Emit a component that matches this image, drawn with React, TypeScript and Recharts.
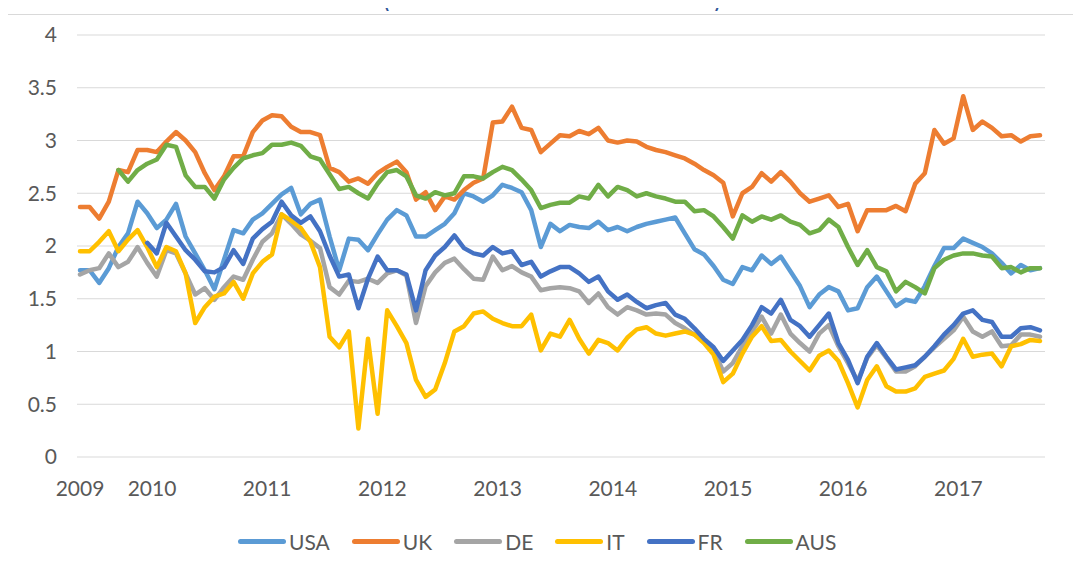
import React from 'react';
import { LineChart, Line, XAxis, YAxis, CartesianGrid, Legend } from 'recharts';

// Monthly observations, May 2009 .. Sep 2017 (101 months)
const START_YEAR = 2009;
const START_MONTH = 5;
const monthLabels: string[] = Array.from({ length: 101 }, (_, i) => {
  const m = START_MONTH - 1 + i;
  return `${START_YEAR + Math.floor(m / 12)}-${String((m % 12) + 1).padStart(2, '0')}`;
});

const yearTickPositions = [0, 7.5, 19.5, 31.5, 43.5, 55.5, 67.5, 79.5, 91.5];
const yearTickLabels = ['2009', '2010', '2011', '2012', '2013', '2014', '2015', '2016', '2017'];
const yTicks = [0, 0.5, 1, 1.5, 2, 2.5, 3, 3.5, 4];

const seriesNames = ['USA', 'UK', 'DE', 'IT', 'FR', 'AUS'];
const seriesColors = ['#5B9BD5', '#ED7D31', '#A5A5A5', '#FFC000', '#4472C4', '#70AD47'];

const usa = [
  1.77, 1.77, 1.65, 1.79, 1.99, 2.12, 2.42, 2.31, 2.17, 2.25,
  2.40, 2.09, 1.93, 1.77, 1.59, 1.87, 2.15, 2.12, 2.25, 2.31,
  2.40, 2.49, 2.55, 2.30, 2.40, 2.44, 2.09, 1.77, 2.07, 2.06,
  1.96, 2.11, 2.25, 2.34, 2.29, 2.09, 2.09, 2.15, 2.21, 2.31,
  2.50, 2.47, 2.42, 2.48, 2.58, 2.55, 2.51, 2.34, 1.99, 2.21,
  2.14, 2.20, 2.18, 2.17, 2.23, 2.15, 2.18, 2.14, 2.18, 2.21,
  2.23, 2.25, 2.27, 2.12, 1.97, 1.92, 1.81, 1.68, 1.64, 1.80,
  1.77, 1.91, 1.83, 1.90, 1.76, 1.62, 1.42, 1.54, 1.61, 1.57,
  1.39, 1.41, 1.61, 1.71, 1.57, 1.43, 1.49, 1.47, 1.62, 1.81,
  1.98, 1.98, 2.07, 2.03, 1.99, 1.93, 1.84, 1.74, 1.82, 1.77, 1.79,
];

const uk = [
  2.37, 2.37, 2.26, 2.42, 2.72, 2.70, 2.91, 2.91, 2.89, 2.99,
  3.08, 3.00, 2.89, 2.69, 2.53, 2.66, 2.85, 2.85, 3.08, 3.19,
  3.24, 3.23, 3.13, 3.08, 3.08, 3.05, 2.74, 2.70, 2.61, 2.64,
  2.59, 2.69, 2.75, 2.80, 2.70, 2.44, 2.51, 2.34, 2.47, 2.44,
  2.53, 2.60, 2.64, 3.17, 3.18, 3.32, 3.12, 3.10, 2.89, 2.97,
  3.05, 3.04, 3.09, 3.06, 3.12, 3.00, 2.98, 3.00, 2.99, 2.94,
  2.91, 2.89, 2.86, 2.83, 2.78, 2.72, 2.67, 2.60, 2.28, 2.50,
  2.56, 2.69, 2.61, 2.70, 2.61, 2.50, 2.42, 2.45, 2.48, 2.37,
  2.40, 2.14, 2.34, 2.34, 2.34, 2.38, 2.33, 2.59, 2.69, 3.10,
  2.97, 3.02, 3.42, 3.10, 3.18, 3.12, 3.04, 3.05, 2.99, 3.04, 3.05,
];

const de = [
  1.73, 1.77, 1.79, 1.93, 1.80, 1.85, 1.99, 1.84, 1.71, 1.96,
  1.93, 1.74, 1.54, 1.60, 1.49, 1.61, 1.71, 1.68, 1.87, 2.04,
  2.12, 2.30, 2.21, 2.11, 2.05, 1.98, 1.61, 1.54, 1.67, 1.66,
  1.69, 1.65, 1.74, 1.77, 1.72, 1.27, 1.62, 1.75, 1.84, 1.88,
  1.78, 1.69, 1.68, 1.90, 1.77, 1.81, 1.75, 1.71, 1.58, 1.60,
  1.61, 1.60, 1.57, 1.46, 1.55, 1.42, 1.35, 1.42, 1.39, 1.35,
  1.36, 1.35, 1.27, 1.22, 1.16, 1.10, 1.02, 0.81, 0.89, 1.05,
  1.19, 1.33, 1.17, 1.35, 1.17, 1.08, 1.00, 1.17, 1.25, 1.05,
  0.89, 0.72, 0.94, 1.06, 0.94, 0.81, 0.81, 0.86, 0.95, 1.04,
  1.12, 1.20, 1.33, 1.19, 1.14, 1.19, 1.05, 1.06, 1.16, 1.16, 1.14,
];

const it = [
  1.95, 1.95, 2.04, 2.14, 1.95, 2.06, 2.15, 1.99, 1.80, 1.99,
  1.95, 1.74, 1.27, 1.42, 1.52, 1.55, 1.66, 1.50, 1.74, 1.85,
  1.92, 2.30, 2.24, 2.17, 2.04, 1.80, 1.14, 1.04, 1.19, 0.27,
  1.12, 0.41, 1.39, 1.24, 1.08, 0.73, 0.57, 0.64, 0.89, 1.19,
  1.24, 1.36, 1.38, 1.31, 1.27, 1.24, 1.24, 1.35, 1.01, 1.17,
  1.14, 1.30, 1.12, 0.98, 1.11, 1.08, 1.01, 1.13, 1.21, 1.23,
  1.17, 1.15, 1.17, 1.19, 1.16, 1.08, 0.97, 0.71, 0.79, 0.98,
  1.14, 1.24, 1.10, 1.11, 1.00, 0.91, 0.82, 0.96, 1.01, 0.91,
  0.70, 0.47, 0.73, 0.86, 0.67, 0.62, 0.62, 0.65, 0.76, 0.79,
  0.82, 0.93, 1.12, 0.95, 0.97, 0.98, 0.86, 1.05, 1.07, 1.11, 1.10,
];

const fr = [
  null, null, null, null, null, null, null, 2.03, 1.93, 2.22,
  2.09, 1.96, 1.87, 1.76, 1.75, 1.80, 1.96, 1.83, 2.07, 2.16,
  2.23, 2.42, 2.29, 2.22, 2.28, 2.14, 1.91, 1.71, 1.73, 1.41,
  1.69, 1.90, 1.77, 1.77, 1.73, 1.39, 1.77, 1.91, 1.99, 2.10,
  1.98, 1.93, 1.91, 1.99, 1.93, 1.95, 1.82, 1.85, 1.71, 1.76,
  1.80, 1.80, 1.74, 1.66, 1.71, 1.57, 1.49, 1.54, 1.47, 1.41,
  1.44, 1.46, 1.35, 1.31, 1.22, 1.12, 1.04, 0.91, 1.01, 1.11,
  1.25, 1.42, 1.36, 1.49, 1.30, 1.24, 1.14, 1.25, 1.36, 1.08,
  0.92, 0.70, 0.95, 1.08, 0.95, 0.83, 0.85, 0.87, 0.95, 1.05,
  1.16, 1.25, 1.36, 1.39, 1.30, 1.28, 1.14, 1.14, 1.22, 1.23, 1.20,
];

const aus = [
  null, null, null, null, 2.72, 2.61, 2.72, 2.78, 2.82, 2.96,
  2.94, 2.67, 2.56, 2.56, 2.45, 2.63, 2.74, 2.83, 2.86, 2.88,
  2.96, 2.96, 2.98, 2.95, 2.85, 2.82, 2.68, 2.54, 2.56, 2.50,
  2.45, 2.59, 2.70, 2.72, 2.66, 2.48, 2.45, 2.51, 2.48, 2.50,
  2.66, 2.66, 2.64, 2.70, 2.75, 2.72, 2.63, 2.53, 2.36, 2.39,
  2.41, 2.41, 2.47, 2.45, 2.58, 2.47, 2.56, 2.53, 2.47, 2.50,
  2.47, 2.45, 2.42, 2.42, 2.33, 2.34, 2.28, 2.18, 2.07, 2.29,
  2.23, 2.28, 2.25, 2.29, 2.23, 2.20, 2.12, 2.15, 2.25, 2.18,
  1.99, 1.82, 1.96, 1.80, 1.76, 1.57, 1.66, 1.61, 1.55, 1.79,
  1.87, 1.91, 1.93, 1.93, 1.91, 1.90, 1.79, 1.80, 1.75, 1.79, 1.79,
];

const seriesValues = [usa, uk, de, it, fr, aus];

const data = monthLabels.map((month, i) => {
  const row: Record<string, any> = { idx: i, month };
  seriesNames.forEach((n, k) => {
    row[n] = seriesValues[k][i];
  });
  return row;
});

const FONT = 'Lato, "Open Sans", sans-serif';
const TEXT = '#595959';

const renderLegend = () => (
  <div style={{ display: 'flex', alignItems: 'center', fontFamily: FONT, fontSize: 21, color: TEXT, whiteSpace: 'nowrap' }}>
    {seriesNames.map((n, k) => (
      <div key={n} style={{ display: 'flex', alignItems: 'center', marginRight: 22 }}>
        <div style={{ width: 48, height: 5, borderRadius: 3, background: seriesColors[k] }} />
        <span style={{ marginLeft: 3 }}>{n}</span>
      </div>
    ))}
  </div>
);

export default function App() {
  return (
    <div style={{ position: 'relative', width: 1081, height: 577, margin: -8, background: '#fff', overflow: 'hidden' }}>
      <svg width={1081} height={14} style={{ position: 'absolute', left: 0, top: 0 }}>
        <text x={381} y={0.5} fontSize={46} fontFamily='"Liberation Sans", Arial, sans-serif' fill="#2F5597" textLength={342} lengthAdjust="spacingAndGlyphs">
          (10-Year Bond Yields / Per Cent)
        </text>
      </svg>
      <div style={{ position: 'absolute', left: 6, top: 14, width: 1071, height: 562, border: '1px solid #d9d9d9', boxSizing: 'border-box' }} />
      <div style={{ position: 'absolute', left: 0, top: 0 }}>
        <LineChart width={1081} height={577} data={data} margin={{ top: 35, right: 36, bottom: 0, left: 0 }}>
          <CartesianGrid vertical={false} stroke="#d9d9d9" strokeWidth={1} />
          <XAxis
            dataKey="idx"
            type="number"
            domain={[0, 100]}
            ticks={yearTickPositions}
            tickFormatter={(v: number) => yearTickLabels[yearTickPositions.indexOf(v)] ?? ''}
            padding={{ left: 3, right: 5 }}
            height={120}
            axisLine={false}
            tickLine={false}
            tickSize={0}
            tickMargin={24}
            interval={0}
            tick={{ fill: TEXT, fontSize: 21, fontFamily: FONT }}
          />
          <YAxis
            type="number"
            domain={[0, 4]}
            ticks={yTicks}
            width={77}
            axisLine={false}
            tickLine={false}
            tickSize={0}
            tickMargin={20}
            interval={0}
            tick={{ fill: TEXT, fontSize: 21, fontFamily: FONT }}
          />
          <Legend
            layout="horizontal"
            verticalAlign="middle"
            align="center"
            content={renderLegend}
            wrapperStyle={{ position: 'absolute', top: 529, left: 238, width: 'auto', height: 28 }}
          />
          {seriesNames.map((n, k) => (
            <Line
              key={n}
              type="linear"
              dataKey={n}
              name={n}
              stroke={seriesColors[k]}
              strokeWidth={4.5}
              strokeLinejoin="round"
              strokeLinecap="round"
              dot={false}
              activeDot={false}
              isAnimationActive={false}
            />
          ))}
        </LineChart>
      </div>
    </div>
  );
}
